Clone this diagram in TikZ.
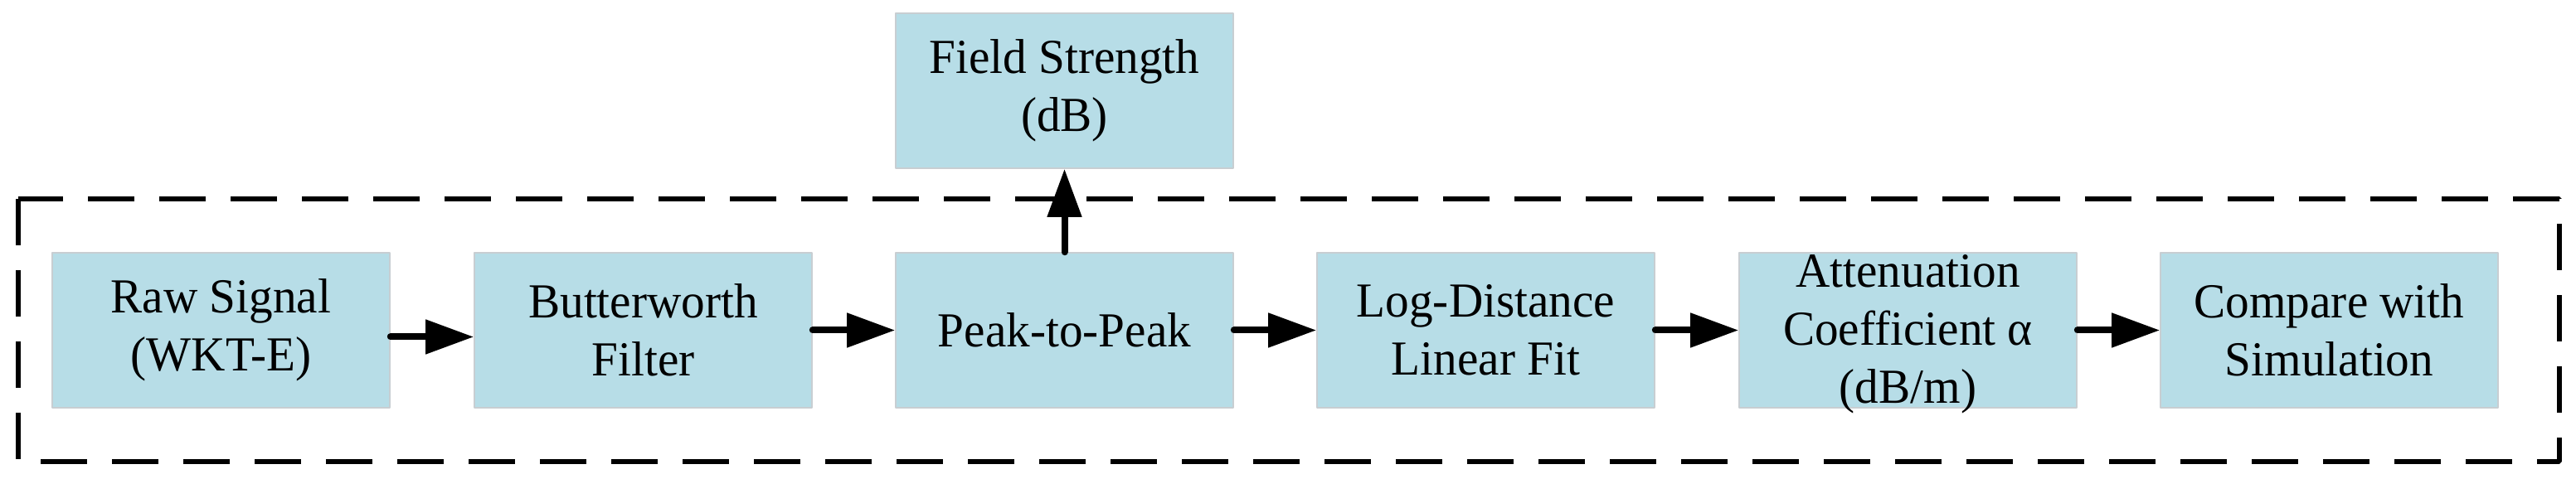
\documentclass[tikz,border=0pt]{standalone}
\usepackage{fontspec}
\setmainfont{Liberation Serif}[FakeStretch=0.97]
\usetikzlibrary{arrows.meta}
\definecolor{boxfill}{RGB}{183,221,231}
\definecolor{boxline}{RGB}{200,206,210}
\begin{document}
\begin{tikzpicture}[>={Triangle[length=14.5bp,width=10bp]},line join=bevel,
  block/.style={draw=boxline,line width=0.4bp,fill=boxfill,minimum width=101.75bp,minimum height=46.75bp,inner sep=0pt,align=center,font=\fontsize{14.75bp}{17.5bp}\selectfont},
  flow/.style={black,->,line width=2bp,line cap=round},
  frame/.style={black,line width=1.4bp,dash pattern=on 14bp off 7.5bp}]
%%
\useasboundingbox (0bp,0bp) rectangle (776.5bp,144.5bp);
\draw [frame] (5.5bp,84.5bp) rectangle (771.5bp,5.25bp);
%
\node (node_raw) at (66.625bp,44.875bp) [block] {Raw Signal\\(WKT-E)};
  \node (node_filter) at (193.875bp,44.875bp) [block] {Butterworth\\Filter};
  \node (node_ptp) at (320.875bp,44.875bp) [block] {Peak-to-Peak};
  \node (node_field) at (320.875bp,117.125bp) [block] {Field Strength\\(dB)};
  \node (node_fit) at (447.875bp,44.875bp) [block] {Log-Distance\\Linear Fit};
  \node (node_alpha) at (575.125bp,44.875bp) [block] {\smash{\raisebox{-4.5bp}{\begin{tabular}{@{}c@{}}Attenuation\\Coefficient α\\(dB/m)\end{tabular}}}};
  \node (node_sim) at (702.125bp,44.875bp) [block] {Compare with\\Simulation};
%
  \draw [flow] ([yshift=-2bp]node_raw.east) -- ([yshift=-2bp]node_filter.west);
  \draw [flow] (node_filter) -- (node_ptp);
  \draw [flow] (node_ptp) -- (node_fit);
  \draw [flow] (node_fit) -- (node_alpha);
  \draw [flow] (node_alpha) -- (node_sim);
  \draw [flow] (node_ptp) -- (node_field);
%
\end{tikzpicture}
\end{document}
